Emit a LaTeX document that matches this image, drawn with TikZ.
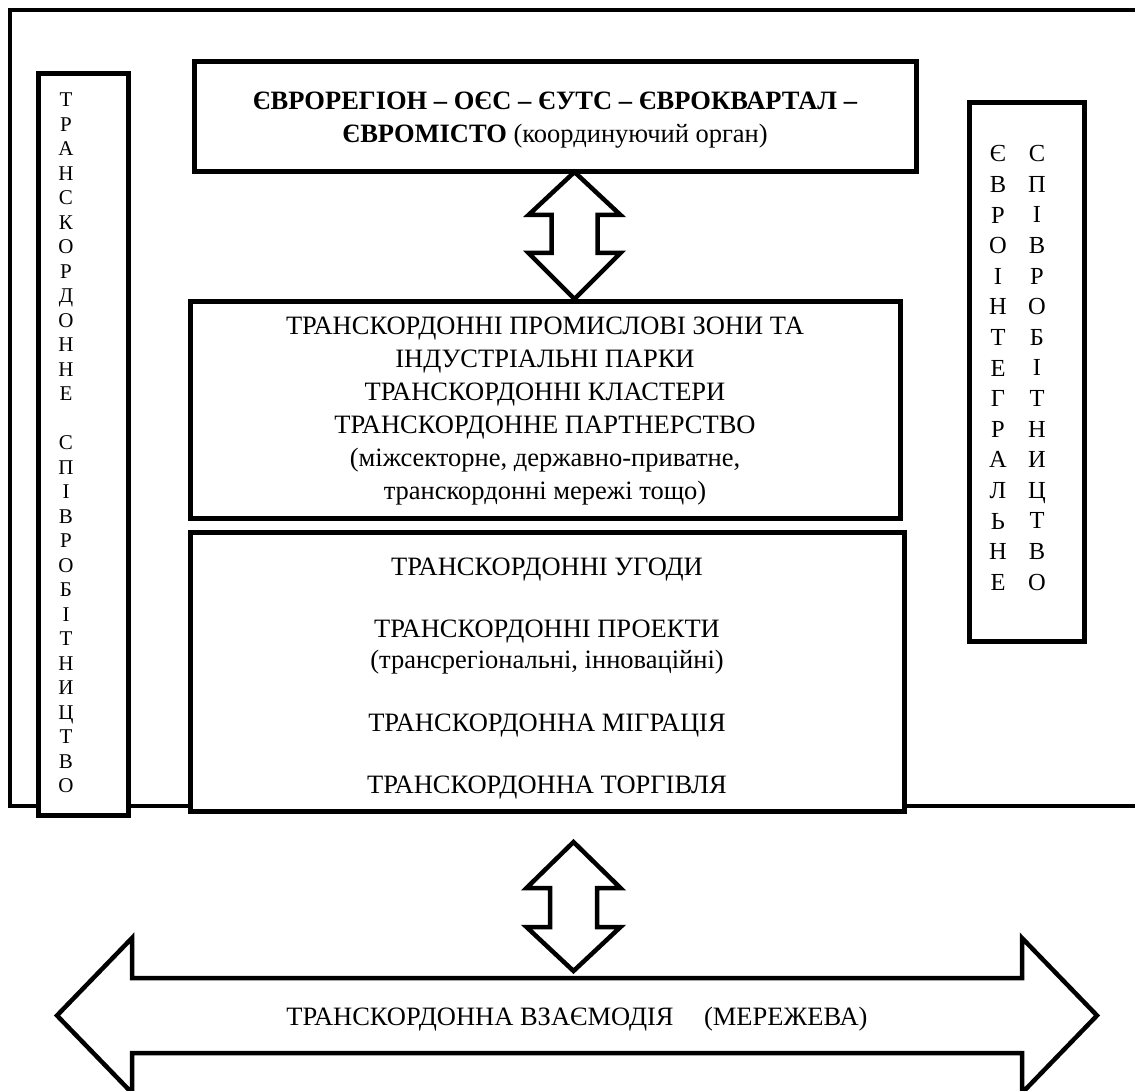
\documentclass[tikz,border=0pt]{standalone}
\usepackage{fontspec}
\setmainfont{Liberation Serif}
\begin{document}
\begin{tikzpicture}[x=1pt,y=-1pt,line join=miter,
  box/.style={draw,line width=5pt,fill=white,inner sep=0pt},
  blockarrow/.style={draw,line width=4.5pt,fill=white},
  maintext/.style={font=\fontsize{26.5}{33}\selectfont,align=center,inner sep=0pt},
  lefttext/.style={font=\fontsize{21}{24.5}\selectfont,align=center,inner sep=0pt},
  righttext/.style={font=\fontsize{24.5}{30.6}\selectfont,align=center,inner sep=0pt}]
\useasboundingbox (0,0) rectangle (1135,1091);
% outer frame (open on the right)
\draw[line width=4.5pt] (1140,10) -- (10,10) -- (10,806) -- (1140,806);
% boxes
\node[box,minimum width=722pt,minimum height=110pt] (top) at (555,117) {};
\node[box,minimum width=710pt,minimum height=216pt] (mid) at (545,410) {};
\node[box,minimum width=714pt,minimum height=279pt] (bot) at (547,671.5) {};
\node[box,minimum width=90.5pt,minimum height=742pt] (left) at (83.25,444.5) {};
\node[box,minimum width=115pt,minimum height=538.5pt] (right) at (1026.5,371.75) {};
% texts
\node[maintext] (toptext) at (555,120) {\textbf{ЄВРОРЕГІОН – ОЄС – ЄУТС – ЄВРОКВАРТАЛ –}\\\textbf{ЄВРОМІСТО} (координуючий орган)};
\node[maintext] (midtext) at (545,411.5) {ТРАНСКОРДОННІ ПРОМИСЛОВІ ЗОНИ ТА\\ІНДУСТРІАЛЬНІ ПАРКИ\\ТРАНСКОРДОННІ КЛАСТЕРИ\\ТРАНСКОРДОННЕ ПАРТНЕРСТВО\\(міжсекторне, державно-приватне,\\транскордонні мережі тощо)};
\node[maintext,font=\fontsize{26.5}{31.1}\selectfont] (bottext) at (547,678.5) {ТРАНСКОРДОННІ УГОДИ\\~\\ТРАНСКОРДОННІ ПРОЕКТИ\\(трансрегіональні, інноваційні)\\~\\ТРАНСКОРДОННА МІГРАЦІЯ\\~\\ТРАНСКОРДОННА ТОРГІВЛЯ};
\node[lefttext] (lefttxt) at (66,443) {Т\\Р\\А\\Н\\С\\К\\О\\Р\\Д\\О\\Н\\Н\\Е\\~\\С\\П\\І\\В\\Р\\О\\Б\\І\\Т\\Н\\И\\Ц\\Т\\В\\О};
\node[righttext] (rightcol1) at (998,368) {Є\\В\\Р\\О\\І\\Н\\Т\\Е\\Г\\Р\\А\\Л\\Ь\\Н\\Е};
\node[righttext] (rightcol2) at (1037,368) {С\\П\\І\\В\\Р\\О\\Б\\І\\Т\\Н\\И\\Ц\\Т\\В\\О};
% block arrows between boxes
\coordinate (a1) at (574.5,172);
\coordinate (a2) at (573.5,842);
\draw[blockarrow] (a1) -- ++(46,43) -- ++(-23,0) -- ++(0,38) -- ++(23,0) -- ++(-46,46) -- ++(-46,-46) -- ++(23,0) -- ++(0,-38) -- ++(-23,0) -- cycle;
\draw[blockarrow] (a2) -- ++(47,46) -- ++(-23.5,0) -- ++(0,39) -- ++(23.5,0) -- ++(-47,44) -- ++(-47,-44) -- ++(23.5,0) -- ++(0,-39) -- ++(-23.5,0) -- cycle;
% big double arrow
\draw[blockarrow] (57,1015.5) -- (132,938) -- (132,978) -- (1022,978) -- (1022,938) -- (1097,1015.5) -- (1022,1093) -- (1022,1053) -- (132,1053) -- (132,1093) -- cycle;
\node[maintext] (bigtext) at (577,1019) {ТРАНСКОРДОННА ВЗАЄМОДІЯ\hspace{0.9em} (МЕРЕЖЕВА)};
\end{tikzpicture}
\end{document}
